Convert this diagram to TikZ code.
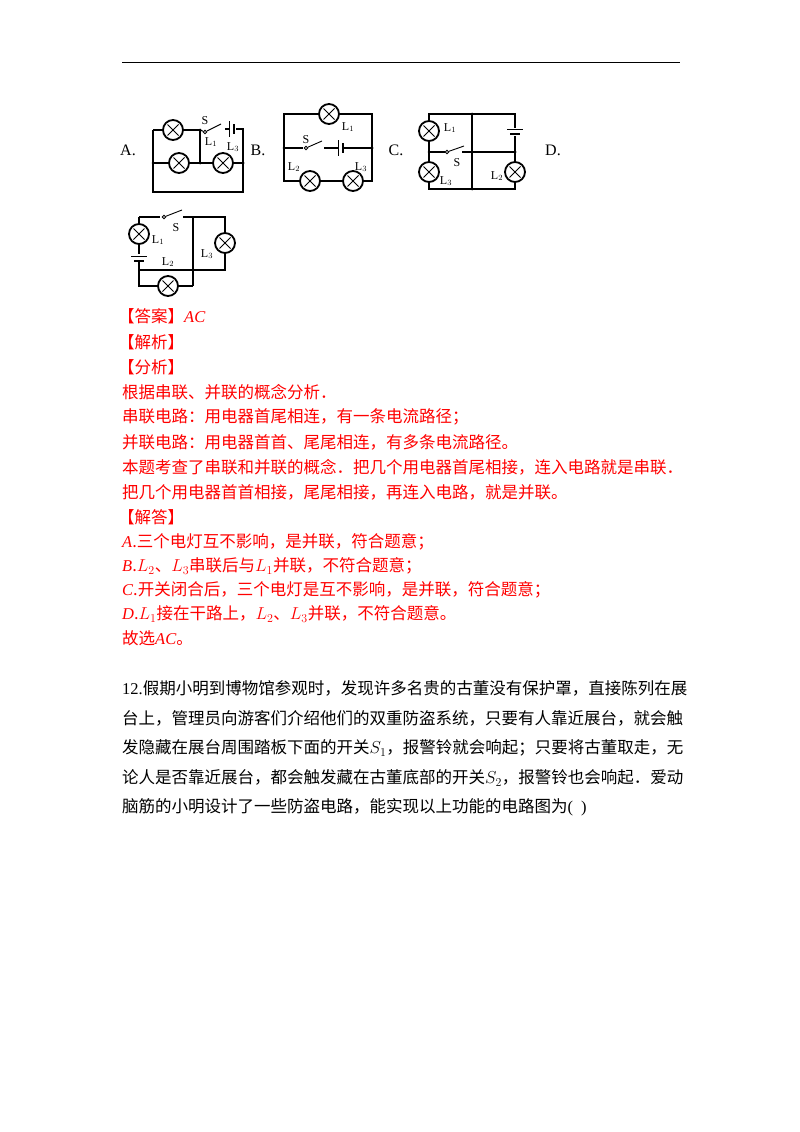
\documentclass[tikz,border=0pt]{standalone}
\usepackage{fontspec}
\setmainfont{Liberation Serif}
\newfontfamily\cjk{Noto Sans CJK SC}
\newfontfamily\lt{Liberation Serif}
\begin{document}
\begin{tikzpicture}[x=1pt,y=-1pt,
  wire/.style={line width=1.1pt},
  lamp/.style={circle,draw,line width=1.8pt,minimum size=20pt,inner sep=0pt,fill=white,
    path picture={\draw[line width=1pt] (path picture bounding box.north west)++(4.5pt,-4.5pt) -- ([xshift=-4.5pt,yshift=4.5pt]path picture bounding box.south east);
    \draw[line width=1pt] ([xshift=4.5pt,yshift=4.5pt]path picture bounding box.south west) -- ([xshift=-4.5pt,yshift=-4.5pt]path picture bounding box.north east);}},
  lab/.style={font=\lt\fontsize{12}{12}\selectfont,inner sep=0pt},
  opt/.style={font=\lt\fontsize{16}{16}\selectfont,inner sep=0pt},
  dot/.style={circle,fill,inner sep=0pt,minimum size=3pt},
  sdot/.style={circle,draw,fill=white,inner sep=0pt,minimum size=3.5pt,line width=0.8pt},
  red/.style={text=red,anchor=west,inner sep=0pt,font=\cjk\fontsize{16.5}{16.5}\selectfont},
  blk/.style={anchor=west,inner sep=0pt,font=\cjk\fontsize{16.5}{16.5}\selectfont}]
\useasboundingbox (0,0) rectangle (800,1132);
\fill[white] (0,0) rectangle (800,1132);
\coordinate (h1) at (122,63); \coordinate (h2) at (680,63);
\draw[line width=1pt] (h1) -- (h2);

% ---------- A ----------
\node[opt] (oA) at (128,150) {A.};
\draw[wire] (153,130) -- (200,130) (200,130) -- (200,163) (153,130) -- (153,192) -- (243,192) -- (243,129) -- (236,129);
\draw[wire] (153,163) -- (243,163);
\node[lamp] (a1) at (173,130) {};
\node[lamp] (a2) at (179,163) {};
\node[lamp] (a3) at (223,163) {};
\node[sdot] (as) at (205,132) {};
\draw[wire] (200,130) -- (as);
\draw[line width=0.9pt] (as) -- (221,124);
\draw[wire] (225,129) -- (229,129);
\draw[line width=1pt] (229,121) -- (229,137);
\draw[line width=2pt] (234,124) -- (234,134);
\node[dot] at (200,130) {}; \node[dot] at (153,163) {}; \node[dot] at (200,163) {}; \node[dot] at (243,163) {};
\node[lab] at (205,121) {S};
\node[lab] at (211,142) {L$_1$};
\node[lab] at (233,147) {L$_3$};

% ---------- B ----------
\node[opt] (oB) at (258,150) {B.};
\draw[wire] (284,114) rectangle (372,181);
\draw[wire] (284,148) -- (303,148) (344,148) -- (372,148);
\node[lamp] (b1) at (329,114) {};
\node[lamp] (b2) at (310,181) {};
\node[lamp] (b3) at (353,181) {};
\node[sdot] (bs) at (306,148) {};
\draw[line width=0.9pt] (bs) -- (322,141);
\draw[wire] (324,148) -- (338,148);
\draw[line width=1pt] (338,140) -- (338,156);
\draw[line width=2pt] (343,143) -- (343,153);
\node[dot] at (284,148) {}; \node[dot] at (372,148) {};
\node[lab] at (348,127) {L$_1$};
\node[lab] at (306,140) {S};
\node[lab] at (294,167) {L$_2$};
\node[lab] at (361,167) {L$_3$};

% ---------- C ----------
\node[opt] (oC) at (396,150) {C.};
\node[opt] (oD) at (553,150) {D.};
\draw[wire] (429,114) rectangle (515,189);
\draw[wire] (472,114) -- (472,189);
\draw[wire] (462,152) -- (515,152);
\fill[white] (509,128) rectangle (521,136);
\draw[line width=1pt] (507,129) -- (523,129);
\draw[line width=2pt] (510,134) -- (520,134);
\node[lamp] (c1) at (429,131) {};
\node[lamp] (c3) at (429,172) {};
\node[lamp] (c2) at (515,172) {};
\node[sdot] (cs) at (447,152) {};
\draw[wire] (429,152) -- (cs);
\draw[line width=0.9pt] (cs) -- (464,146);
\node[dot] at (429,152) {}; \node[dot] at (472,152) {}; \node[dot] at (515,152) {};
\node[dot] at (472,114) {}; \node[dot] at (472,189) {};
\node[lab] at (450,128) {L$_1$};
\node[lab] at (457,163) {S};
\node[lab] at (446,181) {L$_3$};
\node[lab] at (497,176) {L$_2$};

% ---------- D ----------
\draw[wire] (139,217) -- (160,217) (183,217) -- (225,217) -- (225,270) -- (139,270) -- (139,217);
\draw[wire] (139,270) -- (139,286) -- (193,286) (193,217) -- (193,286);
\fill[white] (133,254) rectangle (145,262);
\draw[line width=1pt] (131,256) -- (147,256);
\draw[line width=2pt] (134,261) -- (144,261);
\node[sdot] (ds) at (164,217) {};
\draw[line width=0.9pt] (ds) -- (182,210);
\node[lamp] (d1) at (139,234) {};
\node[lamp] (d3) at (225,243) {};
\node[lamp] (d2) at (168,286) {};
\node[lab] at (176,228) {S};
\node[lab] at (158,240) {L$_1$};
\node[lab] at (168,262) {L$_2$};
\node[lab] at (207,254) {L$_3$};

% ---------- text ----------
\node[red] (t1) at (118,316) {【答案】{\lt\itshape AC}};
\node[red] (t2) at (118,342) {【解析】};
\node[red] (t3) at (118,367) {【分析】};
\node[red] (t4) at (122,392) {根据串联、并联的概念分析．};
\node[red] (t5) at (122,417) {串联电路：用电器首尾相连，有一条电流路径；};
\node[red] (t6) at (122,442) {并联电路：用电器首首、尾尾相连，有多条电流路径。};
\node[red] (t7) at (122,467) {本题考查了串联和并联的概念．把几个用电器首尾相接，连入电路就是串联．};
\node[red] (t8) at (122,492) {把几个用电器首首相接，尾尾相接，再连入电路，就是并联。};
\node[red] (t9) at (118,517) {【解答】};
\node[red] (t10) at (122,542) {{\lt\itshape A}.三个电灯互不影响，是并联，符合题意；};
\node[red] (t11) at (122,566) {{\lt\itshape B}.$L_2$、$L_3$串联后与$L_1$并联，不符合题意；};
\node[red] (t12) at (122,590) {{\lt\itshape C}.开关闭合后，三个电灯是互不影响，是并联，符合题意；};
\node[red] (t13) at (122,614) {{\lt\itshape D}.$L_1$接在干路上，$L_2$、$L_3$并联，不符合题意。};
\node[red] (t14) at (122,638) {故选{\lt\itshape AC}。};

\node[blk] (p1) at (122,688) {{\lt 12.}假期小明到博物馆参观时，发现许多名贵的古董没有保护罩，直接陈列在展};
\node[blk] (p2) at (122,718) {台上，管理员向游客们介绍他们的双重防盗系统，只要有人靠近展台，就会触};
\node[blk] (p3) at (122,748) {发隐藏在展台周围踏板下面的开关$S_1$，报警铃就会响起；只要将古董取走，无};
\node[blk] (p4) at (122,778) {论人是否靠近展台，都会触发藏在古董底部的开关$S_2$，报警铃也会响起．爱动};
\node[blk] (p5) at (122,807) {脑筋的小明设计了一些防盗电路，能实现以上功能的电路图为{\lt(\hspace{8pt})}};
\end{tikzpicture}
\end{document}
